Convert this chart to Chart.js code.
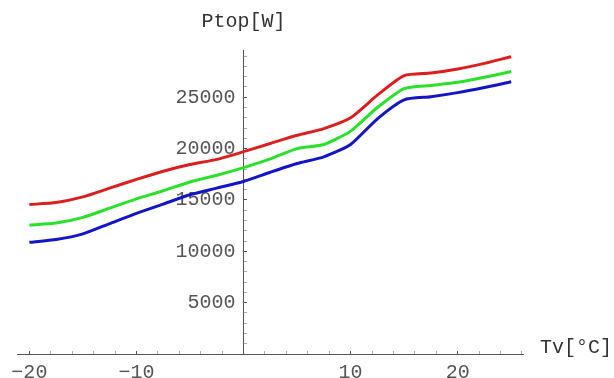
<!DOCTYPE html>
<html>
<head>
<meta charset="utf-8">
<script src="https://cdn.jsdelivr.net/npm/chart.js@4/dist/chart.umd.min.js"></script>
<style>
  html, body { margin: 0; padding: 0; background: #ffffff; }
  #wrap { width: 614px; height: 378px; }
</style>
</head>
<body>
<div id="wrap"><canvas id="c" width="614" height="378"></canvas></div>
<script>
// Data
const temps = [-20, -17.5, -15, -12.5, -10, -7.5, -5, -2.5, 0, 2.5, 5, 7.5, 10, 12.5, 15, 17.5, 20, 22.5, 25];
const redSeries   = [14550, 14750, 15300, 16150, 17000, 17800, 18450, 18950, 19700, 20500, 21300, 21950, 23000, 25200, 27100, 27350, 27750, 28300, 28950];
const greenSeries = [12550, 12750, 13300, 14200, 15100, 15900, 16750, 17400, 18150, 19000, 20000, 20400, 21700, 24000, 25850, 26150, 26450, 26950, 27500];
const blueSeries  = [10870, 11150, 11700, 12700, 13700, 14600, 15500, 16150, 16800, 17700, 18550, 19200, 20400, 22900, 24750, 25050, 25450, 25950, 26500];
const xTickLabels = [-20, -10, 10, 20];
const yTickLabels = [5000, 10000, 15000, 20000, 25000];
const xTitle = 'Tv[°C]';
const yTitle = 'Ptop[W]';

const toPoints = arr => arr.map((v, i) => ({ x: temps[i], y: v }));
const FONT = '"Liberation Mono", "DejaVu Sans Mono", monospace';
const Y_MIN = 0, Y_MAX = 29600;

function yTicks(scale) {
  const t = [];
  for (let v = 0; v <= 29000; v += 1000) t.push({ value: v });
  scale.ticks = t;
}

const titlesPlugin = {
  id: 'axisTitles',
  afterDraw(chart) {
    const ctx = chart.ctx;
    const xs = chart.scales.x, ys = chart.scales.y;
    const x0 = xs.getPixelForValue(0);
    const y0 = ys.getPixelForValue(0);
    ctx.save();
    ctx.font = '20px ' + FONT;
    ctx.fillStyle = '#333333';
    ctx.textBaseline = 'middle';
    ctx.textAlign = 'center';
    ctx.fillText(yTitle, x0, 22);
    ctx.textAlign = 'left';
    ctx.fillText(xTitle, chart.chartArea.right + 17, y0 - 6);
    ctx.restore();
  }
};

new Chart(document.getElementById('c'), {
  type: 'line',
  data: {
    datasets: [
      { data: toPoints(redSeries),   borderColor: 'rgb(220,30,30)',  borderWidth: 3, pointRadius: 0, tension: 0.2, fill: false },
      { data: toPoints(greenSeries), borderColor: 'rgb(40,225,40)',  borderWidth: 3, pointRadius: 0, tension: 0.2, fill: false },
      { data: toPoints(blueSeries),  borderColor: 'rgb(20,20,200)',  borderWidth: 3, pointRadius: 0, tension: 0.2, fill: false }
    ]
  },
  options: {
    responsive: false,
    animation: false,
    devicePixelRatio: 1,
    layout: { padding: { left: 16, right: 91, top: 50, bottom: 24 } },
    plugins: { legend: { display: false }, tooltip: { enabled: false } },
    scales: {
      x: {
        type: 'linear',
        position: { y: 0 },
        min: -21.1, max: 26.1,
        afterBuildTicks(scale) {
          const t = [];
          for (let v = -20; v <= 26; v += 2) t.push({ value: v });
          scale.ticks = t;
        },
        ticks: {
          autoSkip: false,
          maxRotation: 0,
          padding: 11,
          color: '#555555',
          font: { family: FONT, size: 20 },
          callback: v => xTickLabels.includes(v) ? String(v).replace('-', '\u2212') : ''
        },
        grid: {
          drawOnChartArea: false,
          drawTicks: true,
          tickLength: -4,
          tickColor: ctx => (ctx.tick && xTickLabels.includes(ctx.tick.value)) ? '#555555' : '#aaaaaa',
          tickWidth: 1
        },
        border: { display: true, color: '#555555', width: 1 }
      },
      y: {
        type: 'linear',
        position: { x: 0 },
        min: Y_MIN, max: Y_MAX,
        afterBuildTicks: yTicks,
        ticks: { display: false, autoSkip: false },
        grid: {
          drawOnChartArea: false,
          drawTicks: true,
          tickLength: -4,
          tickColor: ctx => (ctx.tick && yTickLabels.includes(ctx.tick.value)) ? '#555555' : '#aaaaaa',
          tickWidth: 1
        },
        border: { display: true, color: '#555555', width: 1 }
      },
      yLabels: {
        type: 'linear',
        axis: 'y',
        position: { x: -0.75 },
        min: Y_MIN, max: Y_MAX,
        afterBuildTicks: yTicks,
        ticks: {
          autoSkip: false,
          padding: 0,
          color: '#555555',
          font: { family: FONT, size: 20 },
          callback: v => yTickLabels.includes(v) ? String(v) : ''
        },
        grid: { display: false, drawTicks: false },
        border: { display: false }
      }
    }
  },
  plugins: [titlesPlugin]
});
</script>
</body>
</html>
